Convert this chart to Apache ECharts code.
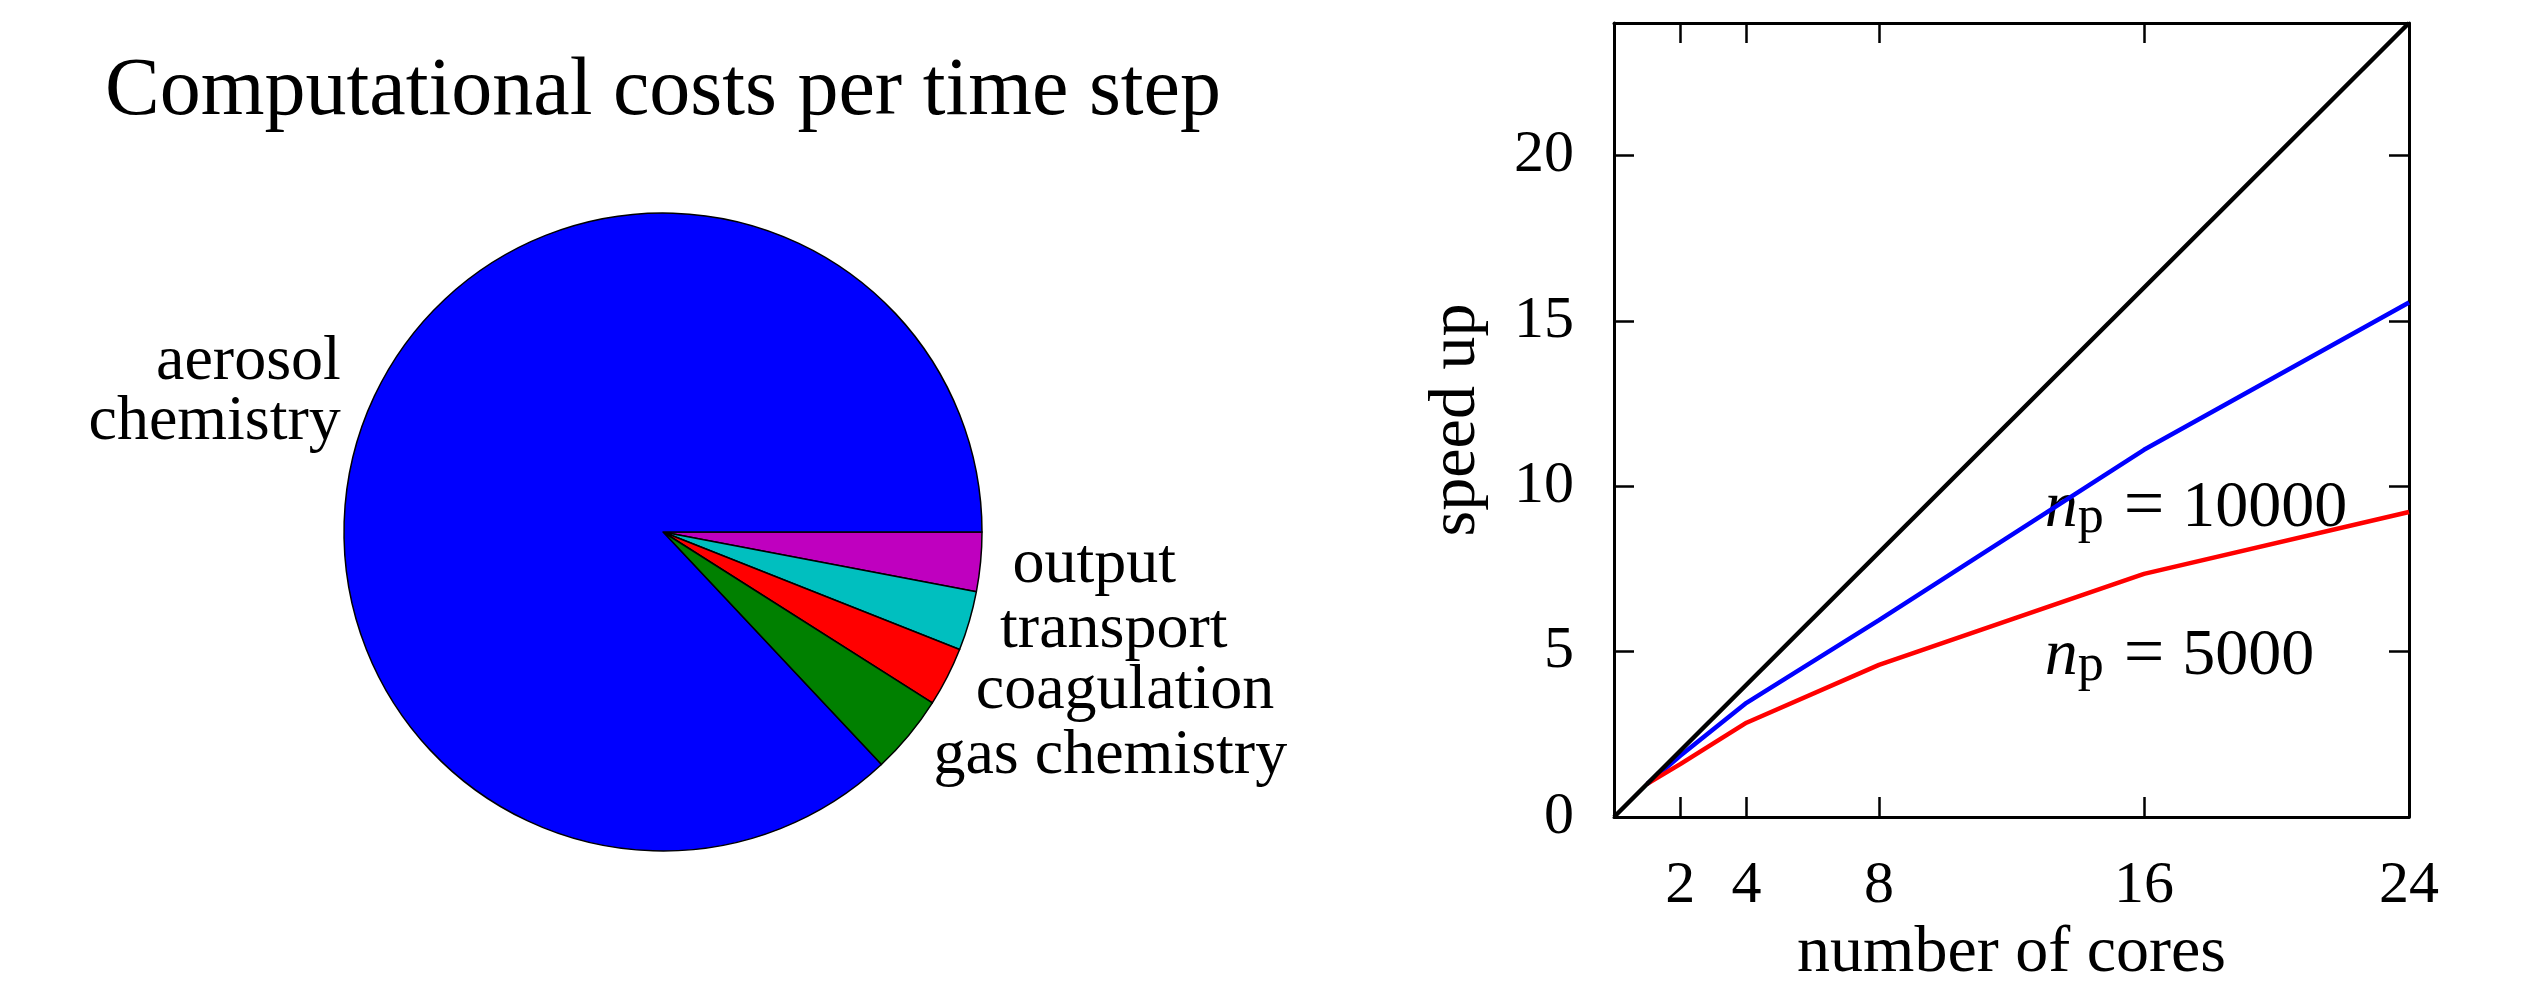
<!DOCTYPE html>
<html><head><meta charset="utf-8">
<script src="https://cdn.jsdelivr.net/npm/echarts@6/dist/echarts.min.js"></script>
<style>html,body{margin:0;padding:0;background:#fff}#c{width:2528px;height:984px}</style>
</head><body><div id="c"></div>
<script>
// ---- data ----
const titleText = 'Computational costs per time step';
const pieLabels = ['output', 'transport', 'coagulation', 'gas chemistry', 'aerosol\nchemistry'];
const pieValues = [3, 3, 3, 4, 87];
const pieColors = ['#bf00bf', '#00bfbf', '#ff0000', '#008000', '#0000ff'];

const cores = [1, 2, 4, 8, 16, 24];
const speedup10000 = [1, 1.85, 3.45, 5.95, 11.1, 15.55];
const speedup5000 = [1, 1.6, 2.85, 4.6, 7.35, 9.22];
const idealCores = [0, 24];
const idealSpeedup = [0, 24];

const xTicks = [2, 4, 8, 16, 24];
const yTicks = [0, 5, 10, 15, 20];
const annotX = [13, 13];
const annotY = [9.33, 4.85];
const annotText = ['10000', '5000'];

// ---- chart ----
const FONT = 'Liberation Serif';
const chart = echarts.init(document.getElementById('c'), null, {renderer: 'canvas'});
const axisLine = {show: true, onZero: false, lineStyle: {color: '#000', width: 3}};
const tickStyle = {color: '#000', width: 2.5};

function zip(a, b) { return a.map((v, i) => [v, b[i]]); }

const option = {
  animation: false,
  backgroundColor: '#fff',
  title: {
    text: titleText,
    left: 663, top: 51, textAlign: 'center', padding: 0,
    textStyle: {fontFamily: FONT, fontSize: 82, fontWeight: 'normal', color: '#000'}
  },
  grid: {left: 1614, top: 23, width: 795, height: 794, containLabel: false, outerBoundsMode: 'none'},
  xAxis: [{
    type: 'value', min: 0, max: 24, position: 'bottom',
    axisLine: axisLine,
    axisTick: {show: true, inside: true, length: 20, customValues: xTicks, lineStyle: tickStyle},
    axisLabel: {show: true, customValues: xTicks, margin: 39, fontFamily: FONT, fontSize: 60, color: '#000'},
    splitLine: {show: false},
    name: 'number of cores', nameLocation: 'middle', nameGap: 100,
    nameTextStyle: {fontFamily: FONT, fontSize: 66, color: '#000'}
  }, {
    type: 'value', min: 0, max: 24, position: 'top',
    axisLine: axisLine,
    axisTick: {show: true, inside: true, length: 20, customValues: xTicks, lineStyle: tickStyle},
    axisLabel: {show: false},
    splitLine: {show: false}
  }],
  yAxis: [{
    type: 'value', min: 0, max: 24, position: 'left',
    axisLine: axisLine,
    axisTick: {show: true, inside: true, length: 20, customValues: yTicks, lineStyle: tickStyle},
    axisLabel: {show: true, customValues: yTicks, margin: 40, fontFamily: FONT, fontSize: 60, color: '#000'},
    splitLine: {show: false},
    name: 'speed up', nameLocation: 'middle', nameGap: 124, nameRotate: 90,
    nameTextStyle: {fontFamily: FONT, fontSize: 66, color: '#000'}
  }, {
    type: 'value', min: 0, max: 24, position: 'right',
    axisLine: axisLine,
    axisTick: {show: true, inside: true, length: 20, customValues: yTicks, lineStyle: tickStyle},
    axisLabel: {show: false},
    splitLine: {show: false}
  }],
  series: [{
    type: 'pie',
    center: [663, 532], radius: 319,
    startAngle: 0, clockwise: true,
    avoidLabelOverlap: false, silent: true,
    labelLayout: {hideOverlap: false},
    label: {show: true, position: 'outside', formatter: '{b}', fontFamily: FONT, fontSize: 64,
            lineHeight: 60, color: '#000', distanceToLabelLine: 0},
    labelLine: {show: false, length: 32, length2: 0},
    itemStyle: {borderColor: '#000', borderWidth: 1.5},
    emphasis: {disabled: true},
    data: pieLabels.map((n, i) => ({name: n, value: pieValues[i], itemStyle: {color: pieColors[i]}}))
  }, {
    type: 'line', name: 'np=10000', xAxisIndex: 0, yAxisIndex: 0,
    data: zip(cores, speedup10000), symbol: 'none',
    lineStyle: {color: '#0000ff', width: 4.5}
  }, {
    type: 'line', name: 'np=5000', xAxisIndex: 0, yAxisIndex: 0,
    data: zip(cores, speedup5000), symbol: 'none',
    lineStyle: {color: '#ff0000', width: 4.5}
  }, {
    type: 'line', name: 'ideal', xAxisIndex: 0, yAxisIndex: 0,
    data: zip(idealCores, idealSpeedup), symbol: 'none',
    lineStyle: {color: '#000', width: 4.5}
  }, {
    type: 'scatter', xAxisIndex: 0, yAxisIndex: 0, silent: true,
    symbolSize: 0, itemStyle: {color: '#000', opacity: 1},
    labelLayout: {hideOverlap: false},
    emphasis: {disabled: true},
    data: annotX.map((x, i) => [x, annotY[i], annotText[i]]),
    label: {
      show: true, position: 'right', distance: 0, color: '#000', opacity: 1,
      formatter: p => '{n|n}{p|p}{e|=}{v|' + p.value[2] + '}',
      rich: {
        n: {fontFamily: FONT, fontStyle: 'italic', fontSize: 66, lineHeight: 72, color: '#000', verticalAlign: 'middle'},
        p: {fontFamily: FONT, fontSize: 52, lineHeight: 48, color: '#000', verticalAlign: 'bottom'},
        e: {fontFamily: FONT, fontSize: 72, lineHeight: 72, color: '#000', verticalAlign: 'middle', padding: [0, 18, 0, 20]},
        v: {fontFamily: FONT, fontSize: 66, lineHeight: 72, color: '#000', verticalAlign: 'middle'}
      }
    }
  }]
};
chart.setOption(option);
</script></body></html>
